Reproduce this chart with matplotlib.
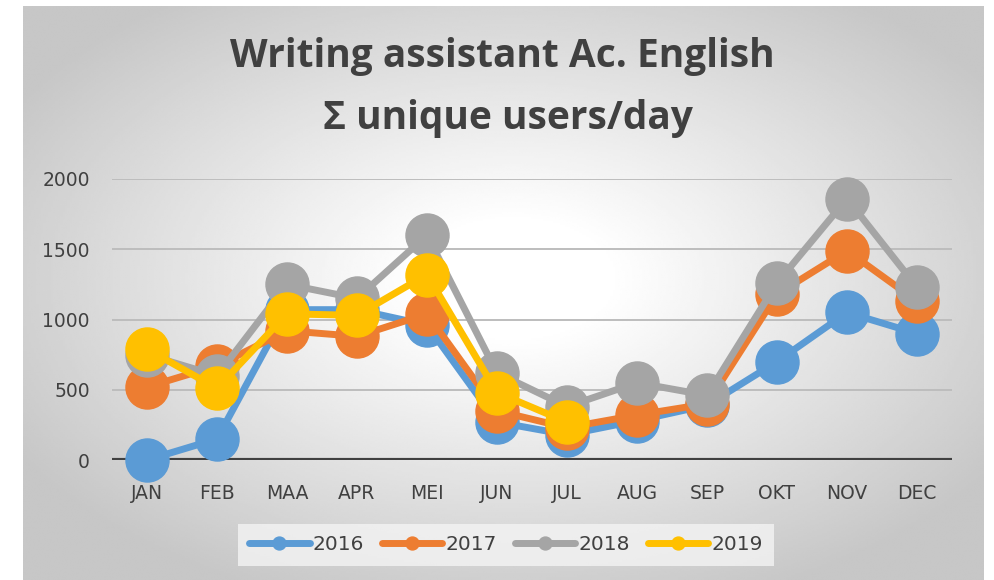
import numpy as np
import matplotlib

matplotlib.use("Agg")
import matplotlib.pyplot as plt

months = ["JAN", "FEB", "MAA", "APR", "MEI", "JUN", "JUL", "AUG", "SEP", "OKT", "NOV", "DEC"]
years = ["2016", "2017", "2018", "2019"]
users_2016 = [0, 150, 1070, 1070, 960, 270, 180, 280, 390, 700, 1050, 900]
users_2017 = [520, 670, 920, 880, 1040, 350, 230, 320, 400, 1180, 1490, 1130]
users_2018 = [750, 600, 1250, 1150, 1600, 620, 380, 550, 460, 1260, 1860, 1230]
users_2019 = [790, 510, 1040, 1030, 1320, 480, 270]
colors = ["#5b9bd5", "#ed7d31", "#a5a5a5", "#ffc000"]
yticks = [0, 500, 1000, 1500, 2000]

W, H = 995, 580
fig = plt.figure(figsize=(W / 100, H / 100), dpi=100)
fig.patch.set_facecolor("white")

# radial gradient background of the chart frame
bg = fig.add_axes([23 / W, 0, (984 - 23) / W, (H - 6) / H])
bg.set_axis_off()
gx, gy = np.meshgrid(np.linspace(-1, 1, 400), np.linspace(-1, 1, 300))
r = np.sqrt((gx - 0.02) ** 2 + (gy + 0.05) ** 2)
shade = 1.0 - 0.22 * np.clip((r - 0.2) / 1.0, 0, 1)
bg.imshow(shade, cmap="gray", vmin=0, vmax=1, extent=(0, 1, 0, 1), aspect="auto", interpolation="bilinear")
bg.set_xlim(0, 1)
bg.set_ylim(0, 1)

ax = fig.add_axes([112 / W, 1 - 460 / H, (952 - 112) / W, (460 - 179) / H])
ax.patch.set_alpha(0)
x = np.arange(len(months))
for yr, vals, c in zip(years, [users_2016, users_2017, users_2018, users_2019], colors):
    ax.plot(x[: len(vals)], vals, color=c, lw=5, marker="o", ms=31, label=yr,
            solid_capstyle="round", clip_on=False)

ax.set_xlim(-0.5, len(months) - 0.5)
ax.set_ylim(0, 2000)
ax.set_yticks(yticks)
ax.set_xticks(x)
ax.set_xticklabels(months)
for yv in yticks[1:]:
    ax.axhline(yv, color="#bdbdbd", lw=1.4, zorder=0)
ax.axhline(0, color="#404040", lw=3, zorder=1)
for s in ax.spines.values():
    s.set_visible(False)
ax.tick_params(length=0, labelsize=13.5, colors="#404040")
ax.tick_params(axis="x", pad=17)
ax.tick_params(axis="y", pad=16)

fig.text(0.505, 1 - 57 / H, "Writing assistant Ac. English", ha="center", va="center",
         fontsize=28, fontweight="bold", color="#404040", family="Open Sans")
fig.text(0.51, 1 - 119 / H, "Σ unique users/day", ha="center", va="center",
         fontsize=28, fontweight="bold", color="#404040", family="Open Sans")

leg = fig.legend(loc="center", bbox_to_anchor=(506 / W, 1 - 545 / H), ncol=4, frameon=True,
                 fontsize=14.5, markerscale=0.3, handlelength=3.0, handletextpad=0.15,
                 columnspacing=0.9, fancybox=False, borderpad=0.55)
leg.get_frame().set_facecolor("#f4f4f4")
leg.get_frame().set_edgecolor("none")
leg.get_frame().set_alpha(0.8)
for t in leg.get_texts():
    t.set_color("#404040")

fig.savefig("out.png", dpi=100)
